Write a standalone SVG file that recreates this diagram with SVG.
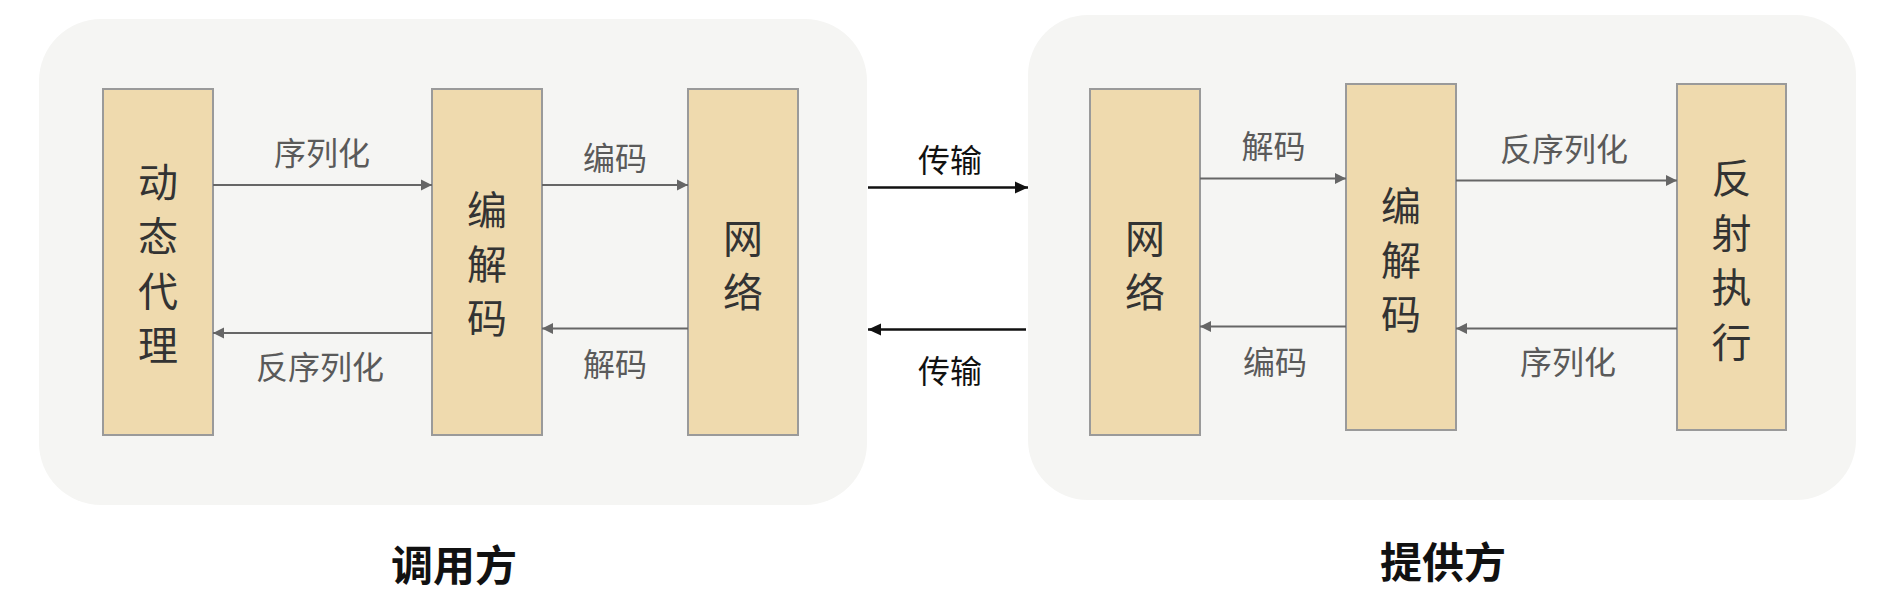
<svg xmlns="http://www.w3.org/2000/svg" width="1882" height="608" viewBox="0 0 1882 608">
<style>
text{font-family:"Noto Sans CJK SC","Noto Sans",sans-serif;text-anchor:middle;dominant-baseline:central}
.panel{fill:#f5f5f3}
.box{fill:#efdaae;stroke:#9a9a9a;stroke-width:2}
.bt{font-size:40px;fill:#333}
.lbl{font-size:32px;fill:#5a5a5a}
.tl{font-size:32px;fill:#111}
.title{font-size:42px;font-weight:bold;fill:#111}
.cg{stroke:#666;stroke-width:2;fill:none;marker-end:url(#ag)}
.ck{stroke:#111;stroke-width:2.5;fill:none;marker-end:url(#ak)}
</style>
<defs>
<marker id="ag" markerWidth="12" markerHeight="12" refX="11" refY="6" orient="auto" markerUnits="userSpaceOnUse"><path d="M0,0.5 L11,6 L0,11.5 Z" fill="#666"/></marker>
<marker id="ak" markerWidth="14" markerHeight="14" refX="13" refY="7" orient="auto" markerUnits="userSpaceOnUse"><path d="M0,1 L13,7 L0,13 Z" fill="#111"/></marker>
</defs>
<rect width="1882" height="608" fill="#ffffff"/>
<g id="caller-panel">
<rect class="panel" x="39" y="19" width="828" height="486" rx="62"/>
<text class="title" x="454" y="562">调用方</text>
</g>
<g id="provider-panel">
<rect class="panel" x="1028" y="15" width="828" height="485" rx="60"/>
<text class="title" x="1443" y="559">提供方</text>
</g>
<g id="proxy">
<rect class="box" x="103" y="89" width="110" height="346"/>
<text class="bt" x="158" y="179.5">动</text>
<text class="bt" x="158" y="234">态</text>
<text class="bt" x="158" y="288.5">代</text>
<text class="bt" x="158" y="343">理</text>
</g>
<g id="codec-l">
<rect class="box" x="432" y="89" width="110" height="346"/>
<text class="bt" x="487" y="207.5">编</text>
<text class="bt" x="487" y="261.5">解</text>
<text class="bt" x="487" y="315.5">码</text>
</g>
<g id="net-l">
<rect class="box" x="688" y="89" width="110" height="346"/>
<text class="bt" x="743" y="235.5">网</text>
<text class="bt" x="743" y="289.5">络</text>
</g>
<g id="net-r">
<rect class="box" x="1090" y="89" width="110" height="346"/>
<text class="bt" x="1145" y="235.5">网</text>
<text class="bt" x="1145" y="289.5">络</text>
</g>
<g id="codec-r">
<rect class="box" x="1346" y="84" width="110" height="346"/>
<text class="bt" x="1401" y="204">编</text>
<text class="bt" x="1401" y="258">解</text>
<text class="bt" x="1401" y="312">码</text>
</g>
<g id="reflect">
<rect class="box" x="1677" y="84" width="109" height="346"/>
<text class="bt" x="1731.5" y="176">反</text>
<text class="bt" x="1731.5" y="230.5">射</text>
<text class="bt" x="1731.5" y="285">执</text>
<text class="bt" x="1731.5" y="339.5">行</text>
</g>
<g id="connectors">
<line class="cg" x1="213" y1="185" x2="432" y2="185"/>
<text class="lbl" x="322" y="151">序列化</text>
<line class="cg" x1="542" y1="185" x2="688" y2="185"/>
<text class="lbl" x="615" y="156">编码</text>
<line class="cg" x1="432" y1="333" x2="213" y2="333"/>
<text class="lbl" x="320" y="364.5">反序列化</text>
<line class="cg" x1="688" y1="328.5" x2="542" y2="328.5"/>
<text class="lbl" x="615" y="361.5">解码</text>
<line class="ck" x1="868" y1="187.5" x2="1028" y2="187.5"/>
<text class="tl" x="950" y="157.5">传输</text>
<line class="ck" x1="1026" y1="329.5" x2="868" y2="329.5"/>
<text class="tl" x="950" y="368.5">传输</text>
<line class="cg" x1="1200" y1="178.5" x2="1346" y2="178.5"/>
<text class="lbl" x="1273.5" y="144">解码</text>
<line class="cg" x1="1456" y1="180.5" x2="1677" y2="180.5"/>
<text class="lbl" x="1564" y="147">反序列化</text>
<line class="cg" x1="1346" y1="326.5" x2="1200" y2="326.5"/>
<text class="lbl" x="1275" y="359.5">编码</text>
<line class="cg" x1="1677" y1="328.5" x2="1456" y2="328.5"/>
<text class="lbl" x="1568" y="360">序列化</text>
</g>
</svg>
